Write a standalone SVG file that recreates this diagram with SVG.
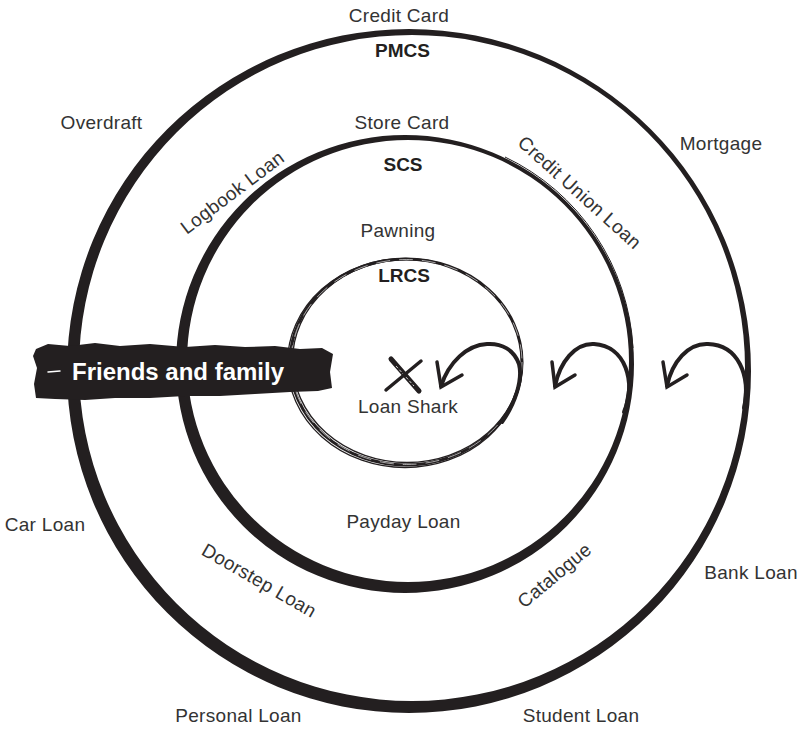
<svg xmlns="http://www.w3.org/2000/svg" width="799" height="729" viewBox="0 0 799 729">
<defs>
<style>
.lbl{font-family:"Liberation Sans",Arial,Helvetica,sans-serif;font-size:19px;fill:#333;letter-spacing:0.3px}
.bold{font-family:"Liberation Sans",Arial,Helvetica,sans-serif;font-size:19px;font-weight:bold;fill:#231f20}
.ring{fill:#231f20;fill-rule:evenodd}
.sk{fill:none;stroke:#231f20}
.hook{fill:none;stroke:#231f20;stroke-width:4;stroke-linecap:round;stroke-linejoin:round}
.head{fill:none;stroke:#231f20;stroke-width:3.5;stroke-linecap:round;stroke-linejoin:miter}
</style>
</defs>
<rect width="799" height="729" fill="#fff"/>

<g id="ring-pmcs">
<path class="ring" d="M67,371 A342,342 0 1 0 751,371 A342,342 0 1 0 67,371 Z M79,368 A333,333 0 1 0 745,368 A333,333 0 1 0 79,368 Z"/>
</g>
<g id="ring-scs">
<path class="ring" d="M176,364 A229,229 0 1 0 634,364 A229,229 0 1 0 176,364 Z M187,361 A221,221 0 1 0 629,361 A221,221 0 1 0 187,361 Z"/>
<path class="sk" stroke-width="1" d="M505,157 A225,225 0 0 1 633,348"/>
<path class="sk" stroke-width="0.8" d="M300,165 A222,222 0 0 1 470,147"/>
</g>
<g id="ring-lrcs">
<ellipse class="sk" cx="406" cy="362" rx="116" ry="103" stroke-width="3"/>
<ellipse class="sk" cx="407" cy="361" rx="114.5" ry="101.5" stroke-width="1.3"/>
<ellipse class="sk" cx="405" cy="363" rx="117.5" ry="104.5" stroke-width="1.3"/>
<ellipse fill="none" stroke="#fff" stroke-width="0.6" cx="406.5" cy="362" rx="115.5" ry="102.5" stroke-dasharray="14 9"/>
</g>

<g id="connectors">
<path class="hook" d="M744,408 C751,375 738,345 708,344 C688,343 672,362 667,386"/>
<polyline class="head" points="663,362 667,387 687,375"/>
<path class="hook" d="M624,412 C636,382 626,346 594,344 C575,343 560,362 555,386"/>
<polyline class="head" points="552,362 555,387 575,375"/>
<path class="hook" d="M502,422 C515,404 523,380 519,364 C514,350 502,343 487,344 C467,345 449,362 441,386"/>
<polyline class="head" points="437,362 441,387 462,375"/>
</g>

<g id="friends-and-family">
<path fill="#231f20" d="M36,349 L48,344 L70,346 L95,343 L120,346 L150,344 L185,347 L215,345 L245,347 L275,346 L300,349 L322,348 L333,354 L330,372 L332,388 L318,391 L290,392 L255,394 L220,396 L185,396 L150,398 L115,398 L85,400 L55,399 L36,398 L34,384 L37,368 L33,356 Z"/>
<line x1="48" y1="372" x2="60" y2="371" stroke="#fff" stroke-width="1.5" stroke-linecap="round"/>
<text x="72" y="380" font-family="Liberation Sans, Arial, sans-serif" font-size="24" font-weight="bold" fill="#fff">Friends and family</text>
</g>

<g id="loan-shark">
<line x1="391" y1="359" x2="419" y2="391" stroke="#231f20" stroke-width="5" stroke-linecap="round"/>
<line x1="396" y1="366" x2="414" y2="386" stroke="#fff" stroke-width="0.8" stroke-dasharray="3 2"/>
<line x1="421" y1="361" x2="386" y2="390" stroke="#231f20" stroke-width="3.5" stroke-linecap="round"/>
<text class="lbl" x="408" y="413" text-anchor="middle">Loan Shark</text>
</g>

<g id="labels-pmcs">
<text class="lbl" x="399" y="22" text-anchor="middle">Credit Card</text>
<text class="bold" x="402.5" y="57" text-anchor="middle">PMCS</text>
<text class="lbl" x="101.5" y="129" text-anchor="middle">Overdraft</text>
<text class="lbl" x="721" y="150" text-anchor="middle">Mortgage</text>
<text class="lbl" x="45" y="531" text-anchor="middle">Car Loan</text>
<text class="lbl" x="751" y="579" text-anchor="middle">Bank Loan</text>
<text class="lbl" x="238.5" y="722" text-anchor="middle">Personal Loan</text>
<text class="lbl" x="581" y="722" text-anchor="middle">Student Loan</text>
</g>
<g id="labels-scs">
<text class="lbl" x="402" y="129" text-anchor="middle">Store Card</text>
<text class="bold" x="403" y="171" text-anchor="middle">SCS</text>
<text class="lbl" text-anchor="middle" transform="translate(232,192) rotate(-37)" y="7">Logbook Loan</text>
<text class="lbl" text-anchor="middle" transform="translate(580,192) rotate(42)" y="7">Credit Union Loan</text>
<text class="lbl" text-anchor="middle" transform="translate(259.5,580) rotate(30)" y="7">Doorstep Loan</text>
<text class="lbl" text-anchor="middle" transform="translate(554,575) rotate(-40)" y="7">Catalogue</text>
<text class="lbl" x="403.5" y="528" text-anchor="middle">Payday Loan</text>
</g>
<g id="labels-lrcs">
<text class="lbl" x="398" y="237" text-anchor="middle">Pawning</text>
<text class="bold" x="404" y="282" text-anchor="middle">LRCS</text>
</g>
</svg>
